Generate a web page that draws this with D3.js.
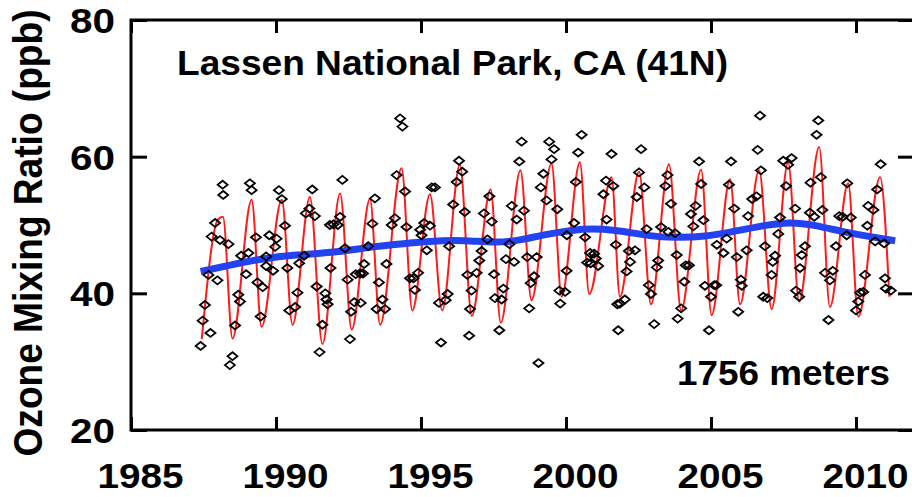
<!DOCTYPE html>
<html>
<head>
<meta charset="utf-8">
<script src="https://cdn.jsdelivr.net/npm/d3@7"></script>
<style>
  html, body { margin: 0; padding: 0; background: #fff; }
  svg { display: block; }
  text { font-family: "Liberation Sans", Arial, Helvetica, sans-serif; font-weight: bold; fill: #000; }
</style>
</head>
<body>
<svg id="chart" width="912" height="497"></svg>
<script>
// Monthly mean ozone observations (decimal year, ppb)
const obsYear = [
  1987.40,1987.47,1987.55,1987.67,1987.74,1987.78,1987.90,1987.98,1988.07,1988.16,
  1988.18,1988.36,1988.41,1988.50,1988.59,1988.70,1988.76,1988.80,1988.97,1989.05,
  1989.10,1989.16,1989.31,1989.36,1989.47,1989.54,1989.66,1989.66,1989.77,1989.90,
  1989.97,1990.02,1990.10,1990.20,1990.31,1990.39,1990.46,1990.66,1990.74,1990.80,
  1990.97,1991.03,1991.15,1991.25,1991.34,1991.40,1991.50,1991.60,1991.70,1991.74,
  1991.78,1991.86,1991.88,1991.98,1992.13,1992.21,1992.29,1992.38,1992.47,1992.55,
  1992.59,1992.70,1992.75,1992.90,1992.92,1993.00,1993.04,1993.18,1993.32,1993.41,
  1993.47,1993.55,1993.67,1993.76,1993.81,1993.99,1994.10,1994.16,1994.28,1994.36,
  1994.45,1994.50,1994.62,1994.74,1994.79,1994.90,1994.97,1995.02,1995.11,1995.20,
  1995.31,1995.37,1995.48,1995.62,1995.69,1995.85,1995.92,1995.97,1996.11,1996.23,
  1996.31,1996.42,1996.51,1996.60,1996.66,1996.69,1996.74,1996.92,1997.01,1997.09,
  1997.17,1997.29,1997.36,1997.44,1997.52,1997.55,1997.70,1997.78,1997.84,1997.93,
  1998.05,1998.13,1998.21,1998.30,1998.39,1998.47,1998.55,1998.66,1998.73,1998.78,
  1998.90,1998.99,1999.05,1999.13,1999.22,1999.33,1999.42,1999.50,1999.59,1999.70,
  1999.77,1999.80,1999.97,2000.02,2000.03,2000.28,2000.34,2000.42,2000.54,2000.66,
  2000.73,2000.83,2000.85,2000.97,2001.03,2001.11,2001.29,2001.38,2001.40,2001.57,
  2001.63,2001.72,2001.77,2001.80,2001.86,2002.03,2002.09,2002.17,2002.21,2002.38,
  2002.44,2002.52,2002.59,2002.70,2002.78,2002.86,2002.93,2003.04,2003.13,2003.18,
  2003.28,2003.43,2003.50,2003.53,2003.62,2003.76,2003.82,2003.85,2003.97,2004.08,
  2004.13,2004.24,2004.31,2004.39,2004.47,2004.59,2004.66,2004.74,2004.79,2004.93,
  2005.00,2005.11,2005.18,2005.20,2005.43,2005.54,2005.62,2005.69,2005.80,2005.89,
  2005.94,2006.03,2006.06,2006.23,2006.28,2006.42,2006.57,2006.61,2006.69,2006.72,
  2006.80,2006.86,2006.94,2007.09,2007.13,2007.21,2007.32,2007.38,2007.49,2007.59,
  2007.66,2007.78,2007.90,2007.93,2008.04,2008.07,2008.13,2008.24,2008.41,2008.43,
  2008.56,2008.64,2008.70,2008.79,2008.84,2008.93,2009.05,2009.10,2009.20,2009.31,
  2009.42,2009.54,2009.68,2009.70,2009.82,2010.00,2010.08,2010.14,2010.25,2010.31,
  2010.39,2010.42,2010.60,2010.66,2010.73,2010.85,2010.97,2011.00,2011.03,2011.20
];
const obsPpb = [
  32.3,36.0,38.3,42.7,34.2,48.3,50.3,41.9,47.8,55.9,
  54.4,47.2,29.5,30.8,35.3,39.8,38.8,45.5,42.8,45.9,
  56.1,55.1,48.2,41.6,36.6,40.9,45.4,44.0,48.5,43.3,
  46.8,48.0,55.1,53.8,49.9,43.7,37.5,38.0,40.1,44.4,
  45.5,51.7,52.4,55.2,51.3,41.0,31.4,35.4,40.0,39.1,
  38.4,50.0,43.7,50.1,50.0,51.2,56.6,46.6,42.0,33.3,
  37.3,38.7,42.8,42.9,38.6,42.9,44.3,46.9,50.2,53.9,
  37.7,41.6,39.1,37.7,44.3,50.0,51.0,57.3,65.6,64.4,
  54.9,49.7,42.2,42.2,40.5,43.0,49.3,48.5,50.3,46.3,
  49.9,55.5,55.5,38.6,32.8,39.0,39.9,46.9,53.0,56.3,
  59.4,57.8,51.9,42.7,33.8,37.7,40.4,43.0,44.8,46.2,
  51.7,47.9,54.2,50.5,42.8,39.3,34.6,39.1,40.7,45.0,
  47.2,52.8,44.6,50.8,59.3,62.2,52.1,45.3,37.8,41.5,
  42.5,45.3,29.8,55.5,57.5,53.6,62.2,59.6,61.1,52.3,
  40.4,38.5,40.2,43.3,48.5,50.3,56.3,60.6,63.2,48.2,
  44.5,45.9,44.4,45.8,45.1,44.0,54.5,56.5,50.8,60.4,
  55.7,47.1,38.4,34.6,38.5,39.1,43.2,46.2,44.6,46.3,
  54.1,57.7,61.1,55.5,49.4,41.2,39.9,35.5,43.8,44.8,
  49.7,55.7,57.3,49.0,53.1,48.8,45.6,36.3,37.8,41.7,
  44.1,44.1,51.6,49.8,52.8,59.3,56.0,50.7,41.1,34.6,
  39.5,41.2,41.2,47.1,45.9,48.0,55.9,59.3,52.4,45.3,
  37.3,42.0,41.1,46.3,51.3,53.8,54.2,61.0,66.0,58.0,
  39.5,46.9,39.3,42.7,44.6,45.5,48.7,51.1,59.4,55.7,
  58.8,59.8,52.4,40.4,39.5,43.7,45.6,46.9,51.8,56.2,
  51.2,63.2,65.3,57.0,52.2,43.0,36.1,41.9,43.3,46.9,
  51.3,51.2,48.5,56.1,51.1,37.5,38.8,40.1,40.2,42.7,
  49.9,52.8,52.2,47.6,55.2,58.9,47.3,42.2,40.7,40.4
];

// Seasonal fit: turning points of the fitted curve (decimal year, ppb)
const fitYear = [
  1987.44,1988.00,1988.17,1988.50,1989.16,1989.50,1990.20,1990.57,1991.17,1991.60,
  1992.21,1992.61,1993.24,1993.59,1994.33,1994.70,1995.31,1995.73,1996.34,1996.75,
  1997.40,1997.75,1998.43,1998.81,1999.50,1999.85,2000.48,2000.80,2001.57,2001.86,
  2002.52,2002.93,2003.55,2003.97,2004.66,2005.02,2005.66,2006.00,2006.66,2007.09,
  2007.66,2008.04,2008.73,2009.10,2009.73,2010.08,2010.83,2011.15
];
const fitPpb = [
  33.3,50.8,51.2,33.4,53.7,35.1,53.7,35.4,54.1,32.6,
  54.6,34.7,53.8,35.4,58.3,37.5,54.5,37.5,58.8,36.7,
  55.2,35.7,58.0,39.0,59.0,39.5,59.2,39.9,57.0,39.5,
  57.8,38.4,58.9,37.5,58.1,36.8,56.7,38.4,58.0,37.7,
  59.2,38.8,61.4,38.0,56.1,36.6,57.0,39.5
];

// Long-term trend (decimal year, ppb)
const trendYear = [
  1987.40,1988.50,1989.50,1990.70,1991.90,1993.00,1994.00,1995.30,1996.50,1997.60,
  1998.50,1999.30,2000.20,2000.90,2001.70,2002.50,2003.20,2003.90,2004.80,2005.70,
  2006.70,2007.70,2008.60,2009.60,2010.50,2011.35
];
const trendPpb = [
  43.2,44.2,45.0,45.6,46.0,46.6,47.1,47.6,47.7,47.5,
  47.9,48.6,49.2,49.4,49.2,48.7,48.3,48.2,48.4,49.0,
  49.8,50.3,49.9,49.0,48.3,47.7
];

const xTicks = [1985, 1990, 1995, 2000, 2005, 2010];
const yTicks = [20, 40, 60, 80];

const titleText = "Lassen National Park, CA (41N)";
const yLabelText = "Ozone Mixing Ratio (ppb)";
const altitudeText = "1756 meters";

const svg = d3.select("#chart");

const x = d3.scaleLinear().domain([1985, 2012]).range([131, 914]);
const y = d3.scaleLinear().domain([20, 80]).range([430, 20]);

const fontSize = 35;

// Seasonal fitted curve
const fitData = fitYear.map((t, i) => [t, fitPpb[i]]);
svg.append("path")
  .datum(fitData)
  .attr("fill", "none")
  .attr("stroke", "#ff1a1a")
  .attr("stroke-width", 2)
  .attr("d", d3.line().x(d => x(d[0])).y(d => y(d[1])).curve(d3.curveMonotoneX));

// Trend curve
const trendData = trendYear.map((t, i) => [t, trendPpb[i]]);
svg.append("path")
  .datum(trendData)
  .attr("fill", "none")
  .attr("stroke", "#2342f0")
  .attr("stroke-width", 7)
  .attr("stroke-linecap", "butt")
  .attr("d", d3.line().x(d => x(d[0])).y(d => y(d[1])).curve(d3.curveNatural));

// Observation diamonds
const obsData = obsYear.map((t, i) => [t, obsPpb[i]]);
svg.append("g")
  .selectAll("path")
  .data(obsData)
  .join("path")
  .attr("transform", d => `translate(${x(d[0])},${y(d[1])})`)
  .attr("d", "M-5,0L0,-4L5,0L0,4Z")
  .attr("fill", "none")
  .attr("stroke", "#000")
  .attr("stroke-width", 1.8);

// Frame
const frame = svg.append("g").attr("stroke", "#000").attr("stroke-width", 3).attr("fill", "none");
frame.append("rect")
  .attr("x", x(1985)).attr("y", y(80))
  .attr("width", x(2012) - x(1985)).attr("height", y(20) - y(80));

// Bottom axis: inward ticks with labels
const xAxis = svg.append("g")
  .attr("transform", `translate(0,${y(20)})`)
  .call(d3.axisBottom(x).tickValues(xTicks).tickFormat(d3.format("d")).tickSize(-13).tickSizeOuter(0).tickPadding(33));
xAxis.select(".domain").remove();
xAxis.selectAll("line").attr("stroke", "#000").attr("stroke-width", 3);
xAxis.selectAll("text")
  .attr("font-size", fontSize)
  .attr("font-family", null)
  .attr("dx", 9)
  .attr("textLength", 86)
  .attr("lengthAdjust", "spacingAndGlyphs");

// Top axis: ticks only
const xTop = svg.append("g")
  .attr("transform", `translate(0,${y(80)})`)
  .call(d3.axisTop(x).tickValues(xTicks).tickFormat("").tickSize(-13).tickSizeOuter(0));
xTop.select(".domain").remove();
xTop.selectAll("line").attr("stroke", "#000").attr("stroke-width", 3);

// Left axis with labels
const yAxis = svg.append("g")
  .attr("transform", `translate(${x(1985)},0)`)
  .call(d3.axisLeft(y).tickValues(yTicks).tickSize(-16).tickSizeOuter(0).tickPadding(16));
yAxis.select(".domain").remove();
yAxis.selectAll("line").attr("stroke", "#000").attr("stroke-width", 3);
yAxis.selectAll("text")
  .attr("font-size", fontSize)
  .attr("font-family", null)
  .attr("dy", "0.36em")
  .attr("textLength", 45)
  .attr("lengthAdjust", "spacingAndGlyphs");

// Right axis: ticks only
const yRight = svg.append("g")
  .attr("transform", `translate(${x(2012)},0)`)
  .call(d3.axisRight(y).tickValues(yTicks).tickFormat("").tickSize(-16).tickSizeOuter(0));
yRight.select(".domain").remove();
yRight.selectAll("line").attr("stroke", "#000").attr("stroke-width", 3);

// Station title
svg.append("text")
  .attr("x", 177).attr("y", 75)
  .attr("font-size", fontSize)
  .attr("textLength", 551)
  .attr("lengthAdjust", "spacingAndGlyphs")
  .text(titleText);

// Station altitude
svg.append("text")
  .attr("x", 677).attr("y", 385)
  .attr("font-size", fontSize)
  .attr("textLength", 213)
  .attr("lengthAdjust", "spacingAndGlyphs")
  .text(altitudeText);

// Y axis title
svg.append("text")
  .attr("transform", "translate(42,233) scale(1.12,1) rotate(-90)")
  .attr("text-anchor", "middle")
  .attr("font-size", 36)
  .attr("textLength", 447)
  .attr("lengthAdjust", "spacingAndGlyphs")
  .text(yLabelText);
</script>
</body>
</html>
